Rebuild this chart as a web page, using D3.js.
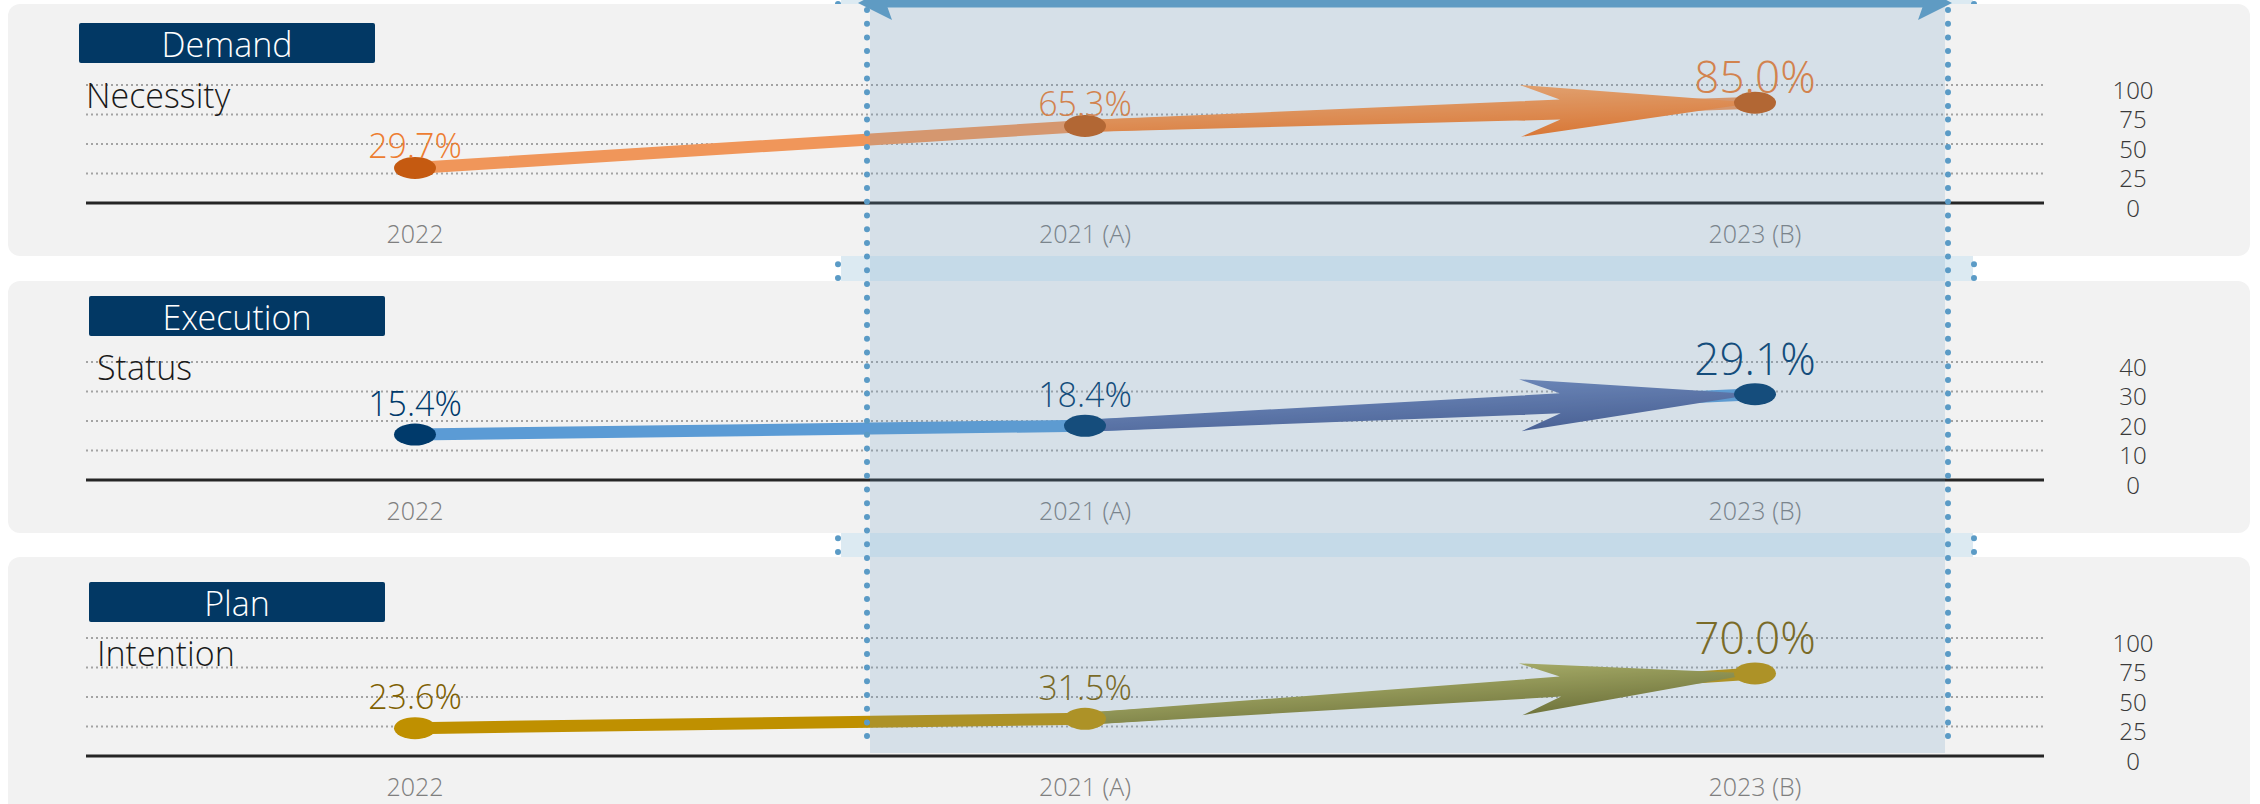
<!DOCTYPE html>
<html>
<head>
<meta charset="utf-8">
<script src="https://cdn.jsdelivr.net/npm/d3@7"></script>
<style>
  html, body { margin: 0; padding: 0; background: #fff; }
  svg { display: block; font-family: "Open Sans Light", "Open Sans", "Noto Sans", sans-serif; }
</style>
</head>
<body>
<svg id="chart" width="2260" height="804"></svg>
<script>
// data
var categories = ["2022", "2021 (A)", "2023 (B)"];
var panelTitles = ["Demand", "Execution", "Plan"];
var panelSubtitles = ["Necessity", "Status", "Intention"];
var demandValues = [29.7, 65.3, 85.0];
var executionValues = [15.4, 18.4, 29.1];
var planValues = [23.6, 31.5, 70.0];
var demandTicks = [0, 25, 50, 75, 100];
var executionTicks = [0, 10, 20, 30, 40];
var planTicks = [0, 25, 50, 75, 100];

// layout + style per panel
var panels = [
    { title: panelTitles[0], sub: panelSubtitles[0], values: demandValues, ticks: demandTicks,
      top: 4, box: [79, 19], subPos: [86, 104], labelGap: 10,
      line: "#F0965A", dot: "#C55A11", text: "#ED7D31", arrow: ["#FFA35C", "#F56F14"] },
    { title: panelTitles[1], sub: panelSubtitles[1], values: executionValues, ticks: executionTicks,
      top: 281, box: [89, 15], subPos: [97, 99], labelGap: 19,
      line: "#5B9BD5", dot: "#003A6B", text: "#003A6B", arrow: ["#6B80B4", "#43548A"] },
    { title: panelTitles[2], sub: panelSubtitles[2], values: planValues, ticks: planTicks,
      top: 557, box: [89, 25], subPos: [97, 109], labelGap: 19,
      line: "#BF9000", dot: "#BF9000", text: "#7F6000", arrow: ["#B4AE50", "#736C1C"] }
];

var svg = d3.select("#chart");
var defs = svg.append("defs");

var x = d3.scalePoint().domain(categories).range([415, 1755]);
var gridX0 = 86, gridX1 = 2044;
var fmt = function(v) { return d3.format(".1f")(v) + "%"; };

// wide light band behind the panels (only shows in the gaps)
var back = svg.append("g");
back.append("rect").attr("x", 841).attr("y", 0).attr("width", 1132).attr("height", 804).attr("fill", "#DCEAF2");
[838, 1974].forEach(function(px) {
    back.append("line").attr("x1", px).attr("x2", px).attr("y1", 4).attr("y2", 800)
        .attr("stroke", "#5B9BC6").attr("stroke-width", 6).attr("stroke-linecap", "round")
        .attr("stroke-dasharray", "0 13.7");
});

panels.forEach(function(p, pi) {
    var g = svg.append("g");
    var y = d3.scaleLinear().domain([0, d3.max(p.ticks)]).range([p.top + 199, p.top + 81]);

    g.append("rect").attr("x", 8).attr("y", p.top).attr("width", 2242).attr("height", pi == 2 ? 280 : 252)
        .attr("rx", 12).attr("fill", "#F2F2F2");

    // gridlines
    g.selectAll(".grid").data(p.ticks.filter(function(t) { return t > 0; })).enter()
        .append("line")
            .attr("x1", gridX0).attr("x2", gridX1)
            .attr("y1", function(d) { return y(d); }).attr("y2", function(d) { return y(d); })
            .attr("stroke", "#A3A3A3").attr("stroke-width", 2).attr("stroke-dasharray", "2 3");

    // axis line
    g.append("line").attr("x1", gridX0).attr("x2", gridX1).attr("y1", y(0)).attr("y2", y(0))
        .attr("stroke", "#262626").attr("stroke-width", 3);

    // tick labels on the right
    g.selectAll(".tick").data(p.ticks).enter()
        .append("text")
            .attr("x", 2133).attr("y", function(d) { return y(d) + 4; })
            .attr("text-anchor", "middle").attr("dominant-baseline", "central")
            .attr("font-size", "24px").attr("font-weight", 300).attr("fill", "#3A3A3A")
            .text(function(d) { return d; });

    // categories
    g.selectAll(".cat").data(categories).enter()
        .append("text")
            .attr("x", function(d) { return x(d); }).attr("y", y(0) + 40)
            .attr("text-anchor", "middle").attr("font-size", "25px").attr("font-weight", 300)
            .attr("fill", "#7F7F7F")
            .text(function(d) { return d; });

    // title box
    g.append("rect").attr("x", p.box[0]).attr("y", p.top + p.box[1]).attr("width", 296).attr("height", 40)
        .attr("rx", 2).attr("fill", "#023864");
    g.append("text").attr("x", p.box[0] + 148).attr("y", p.top + p.box[1] + 21)
        .attr("text-anchor", "middle").attr("dominant-baseline", "central")
        .attr("font-size", "34px").attr("font-weight", 300).attr("fill", "#fff").text(p.title);
    g.append("text").attr("x", p.subPos[0]).attr("y", p.top + p.subPos[1])
        .attr("font-size", "34px").attr("font-weight", 300).attr("fill", "#1A1A1A").text(p.sub);

    var pts = categories.map(function(c, i) { return [x(c), y(p.values[i])]; });

    // line through all points
    g.append("path").attr("d", d3.line()(pts)).attr("fill", "none")
        .attr("stroke", p.line).attr("stroke-width", 12);

    // big arrow from 2nd to 3rd point
    var grad = defs.append("linearGradient").attr("id", "ag" + pi)
        .attr("x1", 0).attr("y1", 0).attr("x2", 0).attr("y2", 1);
    grad.append("stop").attr("offset", "0%").attr("stop-color", p.arrow[0]);
    grad.append("stop").attr("offset", "100%").attr("stop-color", p.arrow[1]);

    var a = pts[1], b = pts[2];
    var L = Math.hypot(b[0] - a[0], b[1] - a[1]);
    var ang = Math.atan2(b[1] - a[1], b[0] - a[0]) * 180 / Math.PI;
    var shape = [[0, -6], [L - 195, -10], [L - 235, -26], [L, 0], [L - 235, 26], [L - 195, 10], [0, 6]];
    g.append("path")
        .attr("d", d3.line()(shape) + "Z")
        .attr("transform", "translate(" + a[0] + "," + a[1] + ") rotate(" + ang + ")")
        .attr("fill", "url(#ag" + pi + ")");

    // markers
    g.selectAll(".dot").data(pts).enter()
        .append("ellipse")
            .attr("cx", function(d) { return d[0]; }).attr("cy", function(d) { return d[1]; })
            .attr("rx", 21).attr("ry", 11).attr("fill", p.dot);

    // value labels, last one larger
    g.selectAll(".val").data(pts).enter()
        .append("text")
            .attr("x", function(d) { return d[0]; })
            .attr("y", function(d) { return d[1] - p.labelGap; })
            .attr("text-anchor", "middle")
            .attr("font-size", function(d, i) { return i == 2 ? "44px" : "34px"; })
            .attr("font-weight", 300)
            .attr("fill", p.text)
            .text(function(d, i) { return fmt(p.values[i]); });
});

// translucent band in front of the panels
var front = svg.append("g");
front.append("rect").attr("x", 870).attr("y", 0).attr("width", 1075).attr("height", 753)
    .attr("fill", "#6A9AC4").attr("fill-opacity", 0.2);
[867, 1948].forEach(function(px) {
    front.append("line").attr("x1", px).attr("x2", px).attr("y1", 10).attr("y2", 748)
        .attr("stroke", "#5B9BC6").attr("stroke-width", 6).attr("stroke-linecap", "round")
        .attr("stroke-dasharray", "0 13.7");
});

// double arrow at the top, partly cut off
front.append("line").attr("x1", 885).attr("x2", 1930).attr("y1", 3).attr("y2", 3)
    .attr("stroke", "#5F9BC3").attr("stroke-width", 9);
front.append("path").attr("d", d3.line()([[858, 3], [892, -15], [886, 3], [892, 20]]) + "Z").attr("fill", "#5F9BC3");
front.append("path").attr("d", d3.line()([[1952, 3], [1918, -15], [1924, 3], [1918, 20]]) + "Z").attr("fill", "#5F9BC3");
</script>
</body>
</html>
